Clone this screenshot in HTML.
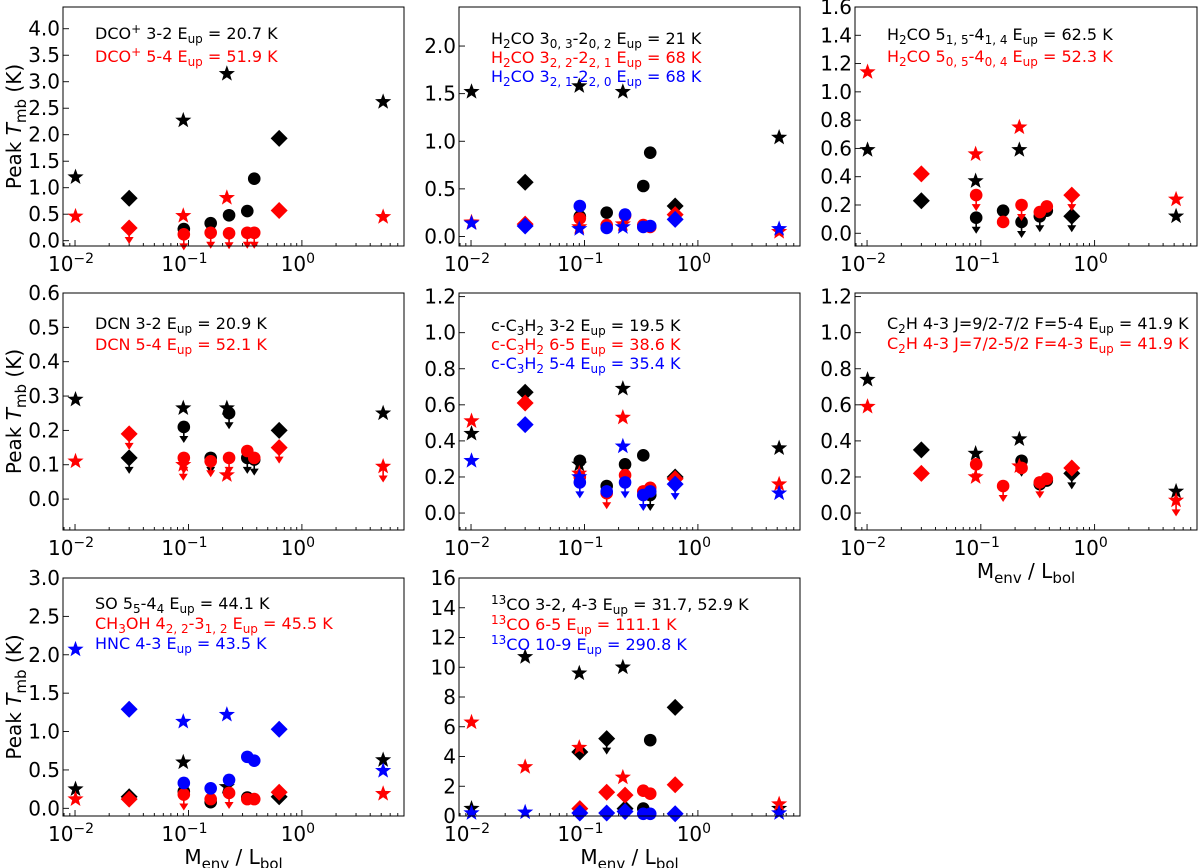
<!DOCTYPE html>
<html><head><meta charset="utf-8"><style>
html,body{margin:0;padding:0;background:#fff;}
svg{display:block;font-family:"DejaVu Sans","Liberation Sans",sans-serif;}
</style></head><body>
<svg id="fig" width="1200" height="868" viewBox="0 0 1200 868" xmlns="http://www.w3.org/2000/svg"></svg>
<script>
// Sources (M_env / L_bol) shared by all panels
const sourceX = [0.0101, 0.030, 0.090, 0.091, 0.157, 0.218, 0.228, 0.33, 0.38, 0.63, 5.2];
const defaultMarkers = ['s','d','s','c','c','s','c','c','c','d','s'];
const xTickExps = [-2, -1, 0];

// Panel 1: DCO+
const p1Black = [1.2, 0.8, 2.27, 0.22, 0.33, 3.15, 0.48, 0.56, 1.17, 1.93, 2.62];
const p1Red = [0.46, 0.24, 0.47, 0.12, 0.15, 0.81, 0.14, 0.15, 0.15, 0.57, 0.45];
const p1RedLim = [1, 3, 4, 6, 7, 8];
// Panel 2: H2CO 3-2
const p2Black = [1.52, 0.57, 1.58, 0.21, 0.25, 1.52, null, 0.53, 0.88, 0.32, 1.04];
const p2Red = [0.15, 0.13, 0.10, 0.19, 0.12, 0.13, 0.22, 0.12, 0.10, 0.23, 0.05];
const p2Blue = [0.14, 0.11, 0.08, 0.32, 0.09, 0.10, 0.23, 0.10, 0.11, 0.18, 0.08];
// Panel 3: H2CO 5-4
const p3Black = [0.59, 0.23, 0.37, 0.11, 0.16, 0.59, 0.08, 0.12, 0.16, 0.12, 0.12];
const p3BlackLim = [3, 6, 7, 9];
const p3Red = [1.14, 0.42, 0.56, 0.27, 0.08, 0.75, 0.20, 0.15, 0.19, 0.27, 0.24];
const p3RedLim = [3, 6, 9];
// Panel 4: DCN
const p4Black = [0.29, 0.12, 0.265, 0.21, 0.12, 0.265, 0.25, 0.12, 0.115, 0.20, 0.25];
const p4BlackLim = [1, 3, 4, 6, 7, 8];
const p4Red = [0.11, 0.19, 0.10, 0.12, 0.11, 0.07, 0.12, 0.14, 0.12, 0.15, 0.095];
const p4RedLim = [1, 2, 3, 4, 6, 9, 10];
// Panel 5: c-C3H2
const p5Black = [0.44, 0.67, 0.27, 0.29, 0.15, 0.69, 0.27, 0.32, 0.10, 0.20, 0.36];
const p5BlackLim = [8];
const p5Red = [0.51, 0.61, 0.22, 0.20, 0.11, 0.53, 0.21, 0.12, 0.14, 0.19, 0.16];
const p5RedLim = [4];
const p5Blue = [0.29, 0.49, 0.20, 0.17, 0.12, 0.37, 0.17, 0.10, 0.12, 0.16, 0.11];
const p5BlueLim = [3, 6, 7, 9];
// Panel 6: C2H
const p6Black = [0.74, 0.35, 0.33, null, null, 0.41, 0.29, 0.16, 0.18, 0.22, 0.12];
const p6BlackLim = [6, 9];
const p6Red = [0.59, 0.22, 0.20, 0.27, 0.15, 0.26, 0.25, 0.17, 0.19, 0.25, 0.07];
const p6RedLim = [3, 4, 7, 10];
// Panel 7: SO / CH3OH / HNC
const p7Black = [0.25, 0.15, 0.60, 0.22, 0.08, 0.28, null, 0.14, null, 0.15, 0.63];
const p7Red = [0.12, 0.12, null, 0.18, 0.12, null, 0.20, 0.12, 0.12, 0.21, 0.19];
const p7RedLim = [3, 6];
const p7Blue = [2.07, 1.29, 1.13, 0.33, 0.26, 1.22, 0.37, 0.67, 0.62, 1.03, 0.49];
// Panel 8: 13CO
const p8Markers = ['s','s','s','d','d','s','d','c','c','d','s'];
const p8Black = [0.5, 10.7, 9.6, 4.3, 5.2, 10.0, 0.5, 0.5, 5.1, 7.3, 0.5];
const p8BlackLim = [4];
const p8Red = [6.3, 3.3, 4.6, 0.5, 1.6, 2.6, 1.4, 1.7, 1.5, 2.1, 0.8];
const p8Blue = [0.2, 0.25, null, 0.2, 0.2, null, 0.3, 0.15, 0.15, 0.15, 0.2];

const svg = document.getElementById('fig');
const NS = 'http://www.w3.org/2000/svg';
function el(tag, attrs, parent){
  const e = document.createElementNS(NS, tag);
  for (const k in attrs) e.setAttribute(k, attrs[k]);
  (parent || svg).appendChild(e);
  return e;
}
const XMIN = -2.106, XMAX = 0.9;
const COLORS = {black:'#000', red:'#ff0000', blue:'#0000ff'};

// write parts with dy-based sub/superscripts
function writeParts(t, parts, smallSize, subDy, supDy){
  let cur = 0;
  parts.forEach(p => {
    const ts = el('tspan', {}, t);
    let target = 0;
    if (p[1] === 'sub') { target = subDy; ts.setAttribute('font-size', smallSize); }
    if (p[1] === 'sup') { target = -supDy; ts.setAttribute('font-size', smallSize); }
    if (p[1] === 'it') ts.setAttribute('font-style', 'italic');
    if (target !== cur) ts.setAttribute('dy', target - cur);
    cur = target;
    ts.textContent = p[0];
  });
}

function legendLine(g, x, y, parts, color){
  const t = el('text', {x:x, y:y, fill:color, 'font-size':16}, g);
  
  
  writeParts(t, parts, 12, 4, 6);
}

function drawMarker(g, type, cx, cy, color){
  let m;
  if (type === 's') {
    let d = '';
    for (let i = 0; i < 10; i++) {
      const r = i % 2 === 0 ? 8.5 : 3.5;
      const a = -Math.PI/2 + i * Math.PI/5;
      d += (i ? 'L' : 'M') + (cx + r*Math.cos(a)).toFixed(2) + ' ' + (cy + r*Math.sin(a)).toFixed(2);
    }
    m = el('path', {d: d + 'Z', fill: color}, g);
  } else if (type === 'd') {
    m = el('path', {d:`M${cx} ${cy-8.5}L${cx+8.5} ${cy}L${cx} ${cy+8.5}L${cx-8.5} ${cy}Z`, fill:color}, g);
  } else {
    m = el('circle', {cx:cx, cy:cy, r:6.3, fill:color}, g);
  }
  return m;
}

function panel(cfg){
  const {left, top, w, h, ymin, ymax, ystep, dec, ylabel, xlabel, legend, series, name} = cfg;
  const g = el('g', {});
  
  
  const xs = v => left + (Math.log10(v) - XMIN) / (XMAX - XMIN) * w;
  const ys = v => top + h - (v - ymin) / (ymax - ymin) * h;
  const tg = el('g', {stroke:'#000', 'stroke-width':0.9}, g);
  const labG = el('g', {fill:'#000', 'font-size':20}, g);
  for (let v = Math.ceil(ymin/ystep - 1e-9)*ystep; v <= ymax + 1e-9; v += ystep) {
    const y = ys(v);
    el('line', {x1:left, x2:left+6, y1:y, y2:y}, tg);
    const t = el('text', {x:left-3, y:y+7, 'text-anchor':'end'}, labG);
    
    
    t.textContent = (Math.abs(v) < 1e-9 ? 0 : v).toFixed(dec);
  }
  for (let e = -3; e <= 1; e++) {
    for (let k = 1; k <= 9; k++) {
      const lv = e + Math.log10(k);
      if (lv < XMIN || lv > XMAX) continue;
      const x = xs(Math.pow(10, lv));
      el('line', {x1:x, x2:x, y1:top+h, y2:top+h-(k===1?6:3)}, tg);
    }
  }
  xTickExps.forEach(e => {
    const t = el('text', {x:xs(Math.pow(10,e)) - 4, y:top+h+25, 'text-anchor':'middle'}, labG);
    
    
    writeParts(t, [['10'], [e < 0 ? '\u2212' + (-e) : String(e), 'sup']], 14, 5, 8);
  });
  series.forEach(s => {
    const sg = el('g', {}, g);
    
    
    const col = COLORS[s.color];
    const mk = s.markers || defaultMarkers;
    const lims = s.lim || [];
    s.values.forEach((v, i) => {
      if (v === null) return;
      const cx = xs(sourceX[i]), cy = ys(v);
      if (lims.indexOf(i) >= 0) {
        const L = 14;
        el('line', {x1:cx, x2:cx, y1:cy, y2:cy+L, stroke:col, 'stroke-width':1.6}, sg);
        const tri = el('path', {d:`M${cx-4.5} ${cy+L-5}L${cx+4.5} ${cy+L-5}L${cx} ${cy+L+2}Z`, fill:col}, sg);
        
        
      }
      const m = drawMarker(sg, mk[i], cx, cy, col);
      
      
    });
  });
  const fr = el('rect', {x:left, y:top, width:w, height:h, fill:'none', stroke:'#000', 'stroke-width':1}, g);
  
  
  legend.forEach((ln, i) => legendLine(g, left+32, top + cfg.lg0 + i*cfg.lgs, ln.parts, COLORS[ln.color]));
  if (ylabel) {
    const t = el('text', {x:0, y:0, 'font-size':20, transform:`translate(${left-42},${top+h/2}) rotate(-90)`, 'text-anchor':'middle'}, g);
    
    
    writeParts(t, [['Peak '], ['T','it'], ['mb','sub'], [' (K)']], 15, 5, 6);
  }
  if (xlabel) {
    const t = el('text', {x:left+w/2, y:top+h+48, 'font-size':20, 'text-anchor':'middle'}, g);
    
    
    writeParts(t, [['M'], ['env','sub'], [' / L'], ['bol','sub']], 15, 5, 6);
  }
}

const C1 = 63, C2 = 459, C3 = 855, W = 341;
const R1 = 7, R2 = 293, R3 = 578;
const H1 = 239, H2 = 237, H3 = 238;

panel({name:'panel-dco', left:C1, top:R1, w:W, h:H1, ymin:-0.1, ymax:4.41, ystep:0.5, dec:1, ylabel:true, lg0:32, lgs:23,
  legend:[{color:'black', parts:[['DCO'],['+','sup'],[' 3-2 E'],['up','sub'],[' = 20.7 K']]},
          {color:'red', parts:[['DCO'],['+','sup'],[' 5-4 E'],['up','sub'],[' = 51.9 K']]}],
  series:[{color:'black', values:p1Black}, {color:'red', values:p1Red, lim:p1RedLim}]});

panel({name:'panel-h2co-32', left:C2, top:R1, w:W, h:H1, ymin:-0.1, ymax:2.41, ystep:0.5, dec:1, lg0:37, lgs:19,
  legend:[{color:'black', parts:[['H'],['2','sub'],['CO 3'],['0, 3','sub'],['-2'],['0, 2','sub'],[' E'],['up','sub'],[' = 21 K']]},
          {color:'red', parts:[['H'],['2','sub'],['CO 3'],['2, 2','sub'],['-2'],['2, 1','sub'],[' E'],['up','sub'],[' = 68 K']]},
          {color:'blue', parts:[['H'],['2','sub'],['CO 3'],['2, 1','sub'],['-2'],['2, 0','sub'],[' E'],['up','sub'],[' = 68 K']]}],
  series:[{color:'black', values:p2Black}, {color:'red', values:p2Red}, {color:'blue', values:p2Blue}]});

panel({name:'panel-h2co-54', left:C3, top:R1, w:342, h:H1, ymin:-0.09, ymax:1.6, ystep:0.2, dec:1, lg0:33, lgs:22,
  legend:[{color:'black', parts:[['H'],['2','sub'],['CO 5'],['1, 5','sub'],['-4'],['1, 4','sub'],[' E'],['up','sub'],[' = 62.5 K']]},
          {color:'red', parts:[['H'],['2','sub'],['CO 5'],['0, 5','sub'],['-4'],['0, 4','sub'],[' E'],['up','sub'],[' = 52.3 K']]}],
  series:[{color:'black', values:p3Black, lim:p3BlackLim}, {color:'red', values:p3Red, lim:p3RedLim}]});

panel({name:'panel-dcn', left:C1, top:R2, w:W, h:H2, ymin:-0.09, ymax:0.6, ystep:0.1, dec:1, ylabel:true, lg0:36, lgs:21,
  legend:[{color:'black', parts:[['DCN 3-2 E'],['up','sub'],[' = 20.9 K']]},
          {color:'red', parts:[['DCN 5-4 E'],['up','sub'],[' = 52.1 K']]}],
  series:[{color:'black', values:p4Black, lim:p4BlackLim}, {color:'red', values:p4Red, lim:p4RedLim}]});

panel({name:'panel-c3h2', left:C2, top:R2, w:W, h:H2, ymin:-0.094, ymax:1.22, ystep:0.2, dec:1, lg0:38, lgs:19,
  legend:[{color:'black', parts:[['c-C'],['3','sub'],['H'],['2','sub'],[' 3-2 E'],['up','sub'],[' = 19.5 K']]},
          {color:'red', parts:[['c-C'],['3','sub'],['H'],['2','sub'],[' 6-5 E'],['up','sub'],[' = 38.6 K']]},
          {color:'blue', parts:[['c-C'],['3','sub'],['H'],['2','sub'],[' 5-4 E'],['up','sub'],[' = 35.4 K']]}],
  series:[{color:'black', values:p5Black, lim:p5BlackLim}, {color:'red', values:p5Red, lim:p5RedLim}, {color:'blue', values:p5Blue, lim:p5BlueLim}]});

panel({name:'panel-c2h', left:C3, top:R2, w:342, h:H2, ymin:-0.094, ymax:1.22, ystep:0.2, dec:1, xlabel:true, lg0:36, lgs:20,
  legend:[{color:'black', parts:[['C'],['2','sub'],['H 4-3 J=9/2-7/2 F=5-4 E'],['up','sub'],[' = 41.9 K']]},
          {color:'red', parts:[['C'],['2','sub'],['H 4-3 J=7/2-5/2 F=4-3 E'],['up','sub'],[' = 41.9 K']]}],
  series:[{color:'black', values:p6Black, lim:p6BlackLim}, {color:'red', values:p6Red, lim:p6RedLim}]});

panel({name:'panel-so-ch3oh-hnc', left:C1, top:R3, w:W, h:H3, ymin:-0.1, ymax:3.0, ystep:0.5, dec:1, ylabel:true, xlabel:true, lg0:31, lgs:20,
  legend:[{color:'black', parts:[['SO 5'],['5','sub'],['-4'],['4','sub'],[' E'],['up','sub'],[' = 44.1 K']]},
          {color:'red', parts:[['CH'],['3','sub'],['OH 4'],['2, 2','sub'],['-3'],['1, 2','sub'],[' E'],['up','sub'],[' = 45.5 K']]},
          {color:'blue', parts:[['HNC 4-3 E'],['up','sub'],[' = 43.5 K']]}],
  series:[{color:'black', values:p7Black}, {color:'red', values:p7Red, lim:p7RedLim}, {color:'blue', values:p7Blue}]});

panel({name:'panel-13co', left:C2, top:R3, w:W, h:H3, ymin:0, ymax:16, ystep:2, dec:0, xlabel:true, lg0:32, lgs:20,
  legend:[{color:'black', parts:[['13','sup'],['CO 3-2, 4-3 E'],['up','sub'],[' = 31.7, 52.9 K']]},
          {color:'red', parts:[['13','sup'],['CO 6-5 E'],['up','sub'],[' = 111.1 K']]},
          {color:'blue', parts:[['13','sup'],['CO 10-9 E'],['up','sub'],[' = 290.8 K']]}],
  series:[{color:'black', values:p8Black, lim:p8BlackLim, markers:p8Markers}, {color:'red', values:p8Red, markers:p8Markers}, {color:'blue', values:p8Blue, markers:p8Markers}]});
</script>
</body></html>
